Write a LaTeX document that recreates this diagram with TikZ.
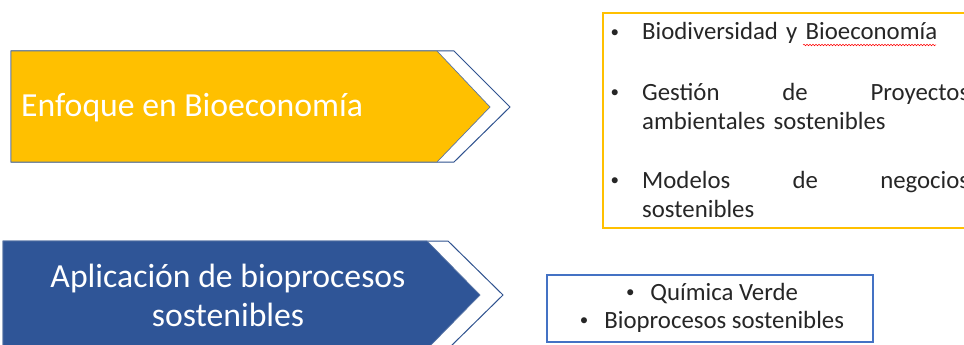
\documentclass[tikz,border=0pt]{standalone}
\usepackage{fontspec}
\setmainfont{Carlito}
\usetikzlibrary{positioning,decorations.pathmorphing}
\definecolor{ambar}{HTML}{FFC000}
\definecolor{azulfondo}{HTML}{2F5597}
\definecolor{azulborde}{HTML}{2F528F}
\definecolor{azulcaja}{HTML}{4472C4}
\definecolor{tinta}{HTML}{262626}
\newcommand{\vineta}{\raisebox{2.5pt}{\fontsize{17}{17}\selectfont •}}

\tikzset{
    chevron/.style={draw=azulborde, line width=1pt, fill=white, line join=miter},
    bloque/.style={draw=azulborde!80, line width=0.7pt, line join=miter},
    titulo/.style={text=white, inner sep=0pt, font=\fontsize{33.7}{39}\selectfont},
    item/.style={text=tinta, inner sep=0pt, font=\fontsize{24.8}{29.5}\selectfont},
}

\begin{document}
\begin{tikzpicture}[x=1pt,y=-1pt]
    \useasboundingbox (0,0) rectangle (964,345);
    \clip (0,0) rectangle (964,345);

    % Top chevron: bioeconomy
    \filldraw[chevron] (11,51) -- (454,51) -- (510,107) -- (454,162) -- (11,162) -- cycle;
    \filldraw[bloque, fill=ambar] (11,51) -- (437,51) -- (490,107) -- (437,162) -- (11,162) -- cycle;
    \node[titulo, anchor=base west] (enfoque) at (21,117) {Enfoque en Bioeconomía};

    % Bottom chevron: bioprocesses
    \filldraw[chevron] (3,241) -- (448,241) -- (503,295) -- (448,349) -- (3,349) -- cycle;
    \filldraw[bloque, fill=azulfondo] (3,241) -- (427,241) -- (480,295) -- (427,349) -- (3,349) -- cycle;
    \node[titulo, anchor=base, align=center] (aplicacion) at (228,326) {Aplicación de bioprocesos\\sostenibles};

    % Topics box (top)
    \draw[draw=ambar, line width=2pt] (603,13) rectangle (980,228);
    \node[item, anchor=base west, text width=327pt, align=left] (biodiv) at (642,40) {\leavevmode\llap{\vineta\hspace{23pt}}Biodiversidad y Bioeconomía};
    \draw[red, line width=0.5pt, decorate, decoration={snake, amplitude=0.8pt, segment length=3pt}] (803,45) -- (936,45);
    \node[item, anchor=base west, text width=327pt, align=left] (gestion) at (642,100) {\leavevmode\llap{\vineta\hspace{23pt}}Gestión \hfill de \hfill Proyectos\\ambientales sostenibles};
    \node[item, anchor=base west, text width=327pt, align=left] (modelos) at (642,188) {\leavevmode\llap{\vineta\hspace{23pt}}Modelos \hfill de \hfill negocios\\sostenibles};

    % Topics box (bottom)
    \draw[draw=azulcaja, line width=2pt] (547,275) rectangle (873,342);
    \node[item, anchor=base, align=center, font=\fontsize{24.8}{28}\selectfont] (quimica) at (712,328) {\vineta\hspace{16pt}Química Verde\\\vineta\hspace{16pt}Bioprocesos sostenibles};
\end{tikzpicture}
\end{document}
